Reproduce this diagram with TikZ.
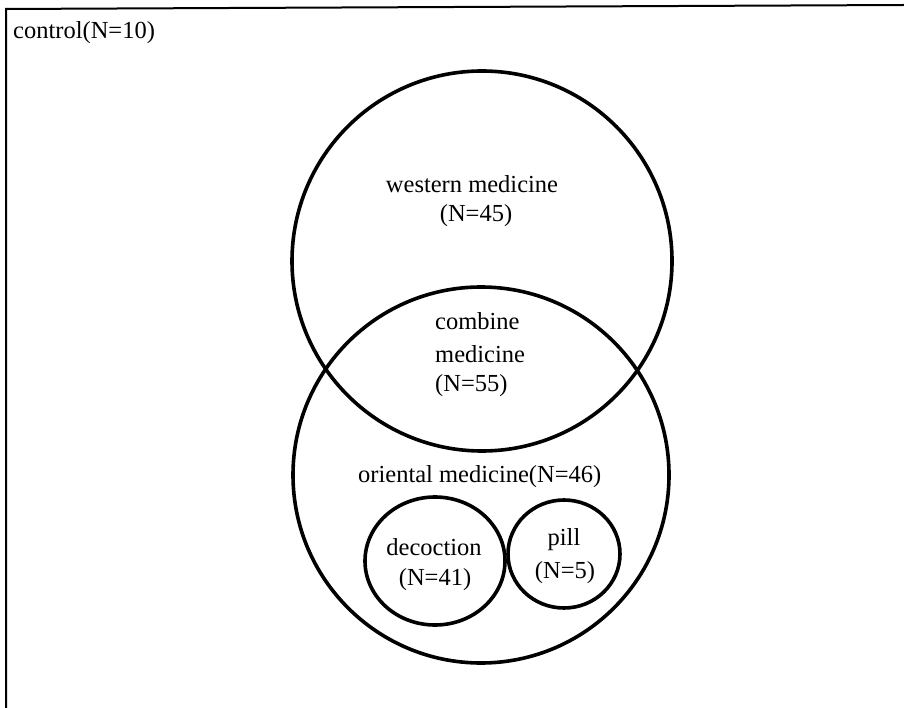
\documentclass[tikz,border=0pt]{standalone}
\usepackage{fontspec}
\setmainfont{Liberation Serif}
\begin{document}
\begin{tikzpicture}[x=1pt,y=-1pt,
  ring/.style={draw=black,line width=3.6pt},
  frameline/.style={draw=black,line width=2pt},
  lbl/.style={inner sep=0pt,font=\fontsize{24.5}{28}\selectfont}]
\useasboundingbox (0,0) rectangle (904,708);
\fill[white] (0,0) rectangle (904,708);
\coordinate (fbl) at (6,708);
\coordinate (ftl) at (6,9);
\coordinate (ftr) at (904,5);
\draw[frameline] (fbl) -- (ftl) -- (ftr);
\node[lbl,anchor=west] (ctrl) at (13,33) {control(N=10)};
% big circles
\draw[ring] (482,261) circle[radius=190];
\draw[ring] (481,475) circle[radius=188];
% small circles
\draw[ring] (435,561) ellipse[x radius=70,y radius=64];
\draw[ring] (564,554) ellipse[x radius=56,y radius=54];
% labels
\node[lbl] (wm) at (472,184) {western medicine};
\node[lbl] (wmn) at (476,216) {(N=45)};
\node[lbl,anchor=west] (cm1) at (435,321) {combine};
\node[lbl,anchor=west] (cm2) at (435,354) {medicine};
\node[lbl,anchor=west] (cm3) at (435,386) {(N=55)};
\node[lbl,anchor=west] (om) at (358,477) {oriental medicine(N=46)};
\node[lbl] (dc) at (434,547) {decoction};
\node[lbl] (dcn) at (435,580) {(N=41)};
\node[lbl] (pl) at (564,540) {pill};
\node[lbl] (pln) at (565,573) {(N=5)};
\end{tikzpicture}
\end{document}
